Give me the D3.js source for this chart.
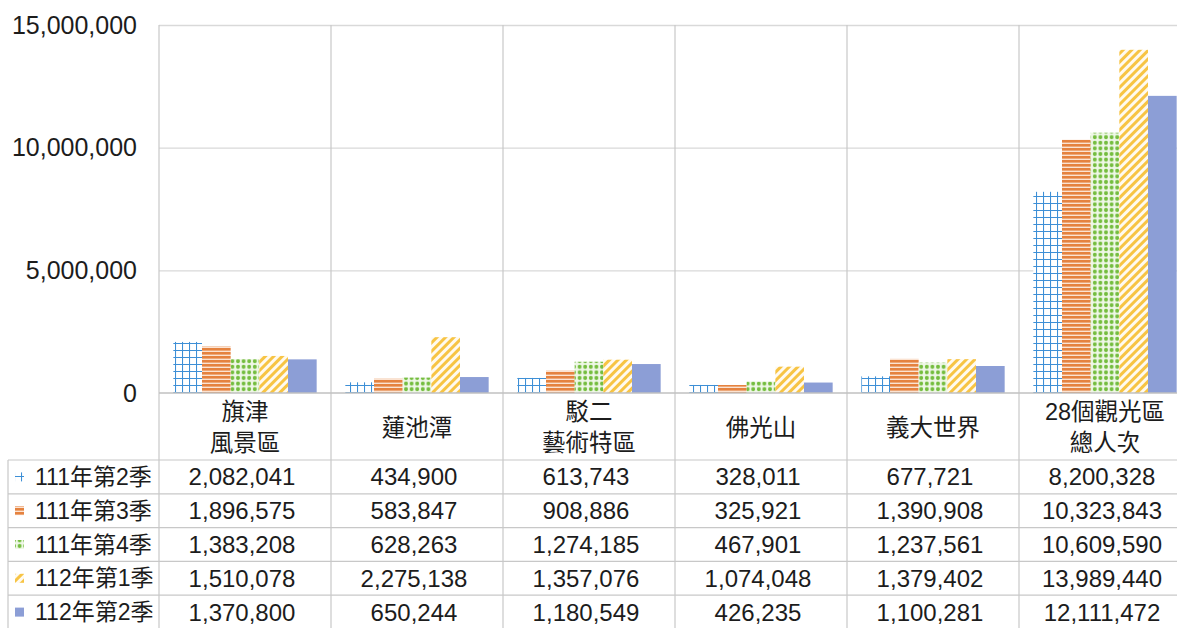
<!DOCTYPE html>
<html><head><meta charset="utf-8">
<script src="https://cdn.jsdelivr.net/npm/d3@7/dist/d3.min.js"></script>
<style>
body{margin:0;background:#fff;}
svg{display:block;font-family:"Liberation Sans",Arial,"Noto Sans CJK TC",sans-serif;}
</style></head><body>
<svg id="c" width="1177" height="628"></svg>
<script>
const categories = ["旗津\n風景區", "蓮池潭", "駁二\n藝術特區", "佛光山", "義大世界", "28個觀光區\n總人次"];
const seriesNames = ["111年第2季", "111年第3季", "111年第4季", "112年第1季", "112年第2季"];
const s111q2 = [2082041, 434900, 613743, 328011, 677721, 8200328];
const s111q3 = [1896575, 583847, 908886, 325921, 1390908, 10323843];
const s111q4 = [1383208, 628263, 1274185, 467901, 1237561, 10609590];
const s112q1 = [1510078, 2275138, 1357076, 1074048, 1379402, 13989440];
const s112q2 = [1370800, 650244, 1180549, 426235, 1100281, 12111472];
const seriesValues = [s111q2, s111q3, s111q4, s112q1, s112q2];
const yTicks = [0, 5000000, 10000000, 15000000];

const svg = d3.select("#c");
const plotL = 159, plotT = 25, plotB = 393, catW = 172;
const plotR = plotL + catW * categories.length;
const tableTop = 460, rowH = 33.8, legendLeft = 8;
const txt = "#1c1c1c";

// patterns
const defs = svg.append("defs");
const p1 = defs.append("pattern").attr("id","p0").attr("patternUnits","userSpaceOnUse").attr("width",7).attr("height",7);
p1.append("rect").attr("width",7).attr("height",7).attr("fill","#fff");
p1.append("path").attr("d","M0.5,0V7M0,0.5H7").attr("stroke","#3d8fd6").attr("stroke-width",1.1);
const p2 = defs.append("pattern").attr("id","p1").attr("patternUnits","userSpaceOnUse").attr("width",4).attr("height",4);
p2.append("rect").attr("width",4).attr("height",4).attr("fill","#fbe3d2");
p2.append("rect").attr("width",4).attr("height",2.6).attr("fill","#e5823f");
const p3 = defs.append("pattern").attr("id","p2").attr("patternUnits","userSpaceOnUse").attr("width",5.6).attr("height",5.6);
p3.append("rect").attr("width",5.6).attr("height",5.6).attr("fill","#eef7e6");
p3.append("circle").attr("cx",2.8).attr("cy",2.8).attr("r",2.0).attr("fill","#74bd3e");
const p4 = defs.append("pattern").attr("id","p3").attr("patternUnits","userSpaceOnUse").attr("width",6).attr("height",6).attr("patternTransform","rotate(45)");
p4.append("rect").attr("width",6).attr("height",6).attr("fill","#fffaf0");
p4.append("rect").attr("width",3).attr("height",6).attr("fill","#f7c444");
const fills = ["url(#p0)","url(#p1)","url(#p2)","url(#p3)","#8c9ed6"];

const y = d3.scaleLinear().domain([0, 15000000]).range([plotB, plotT]);
const x0 = d3.scaleBand().domain(d3.range(categories.length)).range([plotL, plotR]).padding(0);
const x1 = d3.scaleBand().domain(d3.range(seriesNames.length)).range([0, x0.bandwidth()]).paddingInner(0).paddingOuter(0.5);

// horizontal gridlines
svg.append("g").attr("transform",`translate(${plotL},0)`)
  .call(d3.axisLeft(y).tickValues(yTicks.slice(1)).tickSize(-(plotR-plotL)).tickFormat(""))
  .call(g=>g.select(".domain").remove())
  .call(g=>g.selectAll("line").attr("stroke","#d9d9d9").attr("stroke-width",1.3));

// vertical separators
const seps = d3.range(categories.length+1).map(i => i < categories.length ? x0(i) : plotR);
svg.append("g").selectAll("line").data(seps).join("line")
  .attr("x1",d=>d).attr("x2",d=>d).attr("y1",plotT).attr("y2",640)
  .attr("stroke","#c8c8c8").attr("stroke-width",1.2);

// y axis labels
svg.append("g").attr("transform",`translate(${plotL},0)`)
  .call(d3.axisLeft(y).tickValues(yTicks).tickSize(0).tickPadding(22).tickFormat(d3.format(",")))
  .call(g=>g.select(".domain").remove())
  .call(g=>g.selectAll("text").attr("font-size",25).attr("fill",txt).attr("font-family","'Liberation Sans',Arial,sans-serif"));

// bars
const gBars = svg.append("g");
seriesValues.forEach((vals, si) => {
  gBars.append("g").selectAll("rect").data(vals).join("rect")
    .attr("x",(d,i)=>x0(i)+x1(si))
    .attr("width",x1.bandwidth())
    .attr("y",d=>y(d))
    .attr("height",d=>y(0)-y(d))
    .attr("fill",fills[si]);
});

// baseline
svg.append("line").attr("x1",plotL).attr("x2",plotR).attr("y1",plotB).attr("y2",plotB).attr("stroke","#c0c0c0").attr("stroke-width",1.3);

// table horizontal lines
const rowLines = d3.range(seriesNames.length+1).map(i => tableTop + i*rowH);
svg.append("g").selectAll("line").data(rowLines).join("line")
  .attr("x1",legendLeft).attr("x2",plotR).attr("y1",d=>d).attr("y2",d=>d)
  .attr("stroke","#c8c8c8").attr("stroke-width",1.2);
svg.append("line").attr("x1",legendLeft).attr("x2",legendLeft).attr("y1",tableTop).attr("y2",640).attr("stroke","#c8c8c8").attr("stroke-width",1.2);

// category header
const hdr = svg.append("g");
categories.forEach((c,i)=>{
  const lines = c.split("\n");
  const cx = x0(i) + x0.bandwidth()/2;
  const cy = (plotB + tableTop)/2 + 1;
  const lh = 31;
  lines.forEach((t,li)=>{
    hdr.append("text").attr("x",cx).attr("y",cy + (li - (lines.length-1)/2)*lh)
      .attr("text-anchor","middle").attr("dominant-baseline","central")
      .attr("font-size",23.5).attr("fill",txt).text(t);
  });
});

// table rows
const fmt = d3.format(",");
seriesNames.forEach((name, si)=>{
  const cy = tableTop + si*rowH + rowH/2;
  const g = svg.append("g");
  g.append("rect").attr("x",15).attr("y",cy-4.5).attr("width",9).attr("height",9).attr("fill",fills[si]);
  g.append("text").attr("x",35).attr("y",cy).attr("dominant-baseline","central")
    .attr("font-size",23).attr("fill",txt).text(name);
  g.selectAll("text.v").data(seriesValues[si]).join("text").attr("class","v")
    .attr("x",(d,i)=>x0(i)+x0.bandwidth()/2-3).attr("y",cy)
    .attr("text-anchor","middle").attr("dominant-baseline","central")
    .attr("font-size",24).attr("fill",txt).text(d=>fmt(d));
});
</script>
</body></html>
